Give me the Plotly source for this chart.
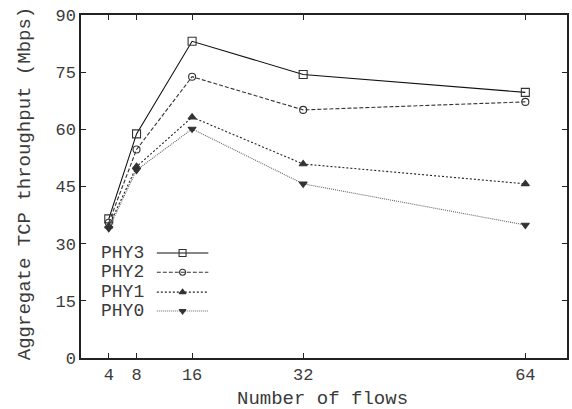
import plotly.graph_objects as go

flows = [4, 8, 16, 32, 64]
x_ticks = [4, 8, 16, 32, 64]
y_ticks = [0, 15, 30, 45, 60, 75, 90]

phy3 = [36.5, 58.8, 83.1, 74.4, 69.7]
phy2 = [35.5, 54.7, 73.8, 65.1, 67.2]
phy1 = [34.6, 50.2, 63.2, 50.9, 45.7]
phy0 = [34.0, 49.3, 60.1, 45.7, 34.9]

names = ["PHY3", "PHY2", "PHY1", "PHY0"]
series = [phy3, phy2, phy1, phy0]
dashes = ["solid", "4px,2px", "2px,2px", "1px,1px"]
line_colors = ["#111111", "#333333", "#222222", "#666666"]
symbols = ["square-open", "circle-open", "triangle-up", "triangle-down"]
msizes = [8, 7, 7, 7]

FONT = "Liberation Mono, Courier New, monospace"
TXT = "#3a3a3a"

fig = go.Figure()
for n, s, d, c, sym, ms in zip(names, series, dashes, line_colors, symbols, msizes):
    fig.add_trace(go.Scatter(
        x=flows, y=s, mode="lines+markers", name=n, showlegend=False,
        line=dict(color=c, width=1.1, dash=d),
        marker=dict(symbol=sym, size=ms, color="#333333",
                    line=dict(color="#333333", width=1.1)),
    ))

# custom legend (text left, sample right) on a hidden overlay axis in paper units
leg_rows = [0.306, 0.250, 0.192, 0.137]
leg_x0, leg_x1, leg_txt = 0.156, 0.262, 0.133
for n, d, c, sym, ms, ry in zip(names, dashes, line_colors, symbols, msizes, leg_rows):
    fig.add_trace(go.Scatter(
        x=[leg_x0, leg_x1], y=[ry, ry], mode="lines", xaxis="x2", yaxis="y2",
        showlegend=False, hoverinfo="skip",
        line=dict(color=c, width=1.1, dash=d),
    ))
    fig.add_trace(go.Scatter(
        x=[(leg_x0 + leg_x1) / 2], y=[ry], mode="markers", xaxis="x2", yaxis="y2",
        showlegend=False, hoverinfo="skip",
        marker=dict(symbol=sym, size=ms - 1, color="#333333",
                    line=dict(color="#333333", width=1.1)),
    ))
    fig.add_annotation(x=leg_txt, y=ry, xref="paper", yref="paper", text=n,
                       showarrow=False, xanchor="right", yanchor="middle",
                       font=dict(family=FONT, size=18, color=TXT))

# axis titles
fig.add_annotation(x=0.496, y=-0.12, xref="paper", yref="paper", text="Number of flows",
                   showarrow=False, xanchor="center", yanchor="middle",
                   font=dict(family=FONT, size=19, color=TXT))
fig.add_annotation(x=-0.115, y=0.507, xref="paper", yref="paper",
                   text="Aggregate TCP throughput (Mbps)", textangle=-90,
                   showarrow=False, xanchor="center", yanchor="middle",
                   font=dict(family=FONT, size=19, color=TXT))

axis_common = dict(
    showgrid=False, zeroline=False, showline=True, linecolor="#222222", linewidth=1.5,
    mirror="ticks", ticks="inside", ticklen=5, tickcolor="#222222", tickwidth=1,
    tickfont=dict(family=FONT, size=17, color=TXT), automargin=False,
)

fig.update_layout(
    width=572, height=409,
    margin=dict(l=81, r=5, t=15, b=51),
    paper_bgcolor="white", plot_bgcolor="white",
    xaxis=dict(range=[0, 70], tickvals=x_ticks, ticktext=[str(t) for t in x_ticks],
               **axis_common),
    yaxis=dict(range=[0, 90], tickvals=y_ticks, ticktext=[str(t) for t in y_ticks],
               **axis_common),
    xaxis2=dict(overlaying="x", range=[0, 1], visible=False, domain=[0, 1]),
    yaxis2=dict(overlaying="y", range=[0, 1], visible=False),
    showlegend=False,
)

fig.write_html("out.html", config={"displayModeBar": False},
               post_script="document.body.style.margin='0';document.body.style.overflow='hidden';")
